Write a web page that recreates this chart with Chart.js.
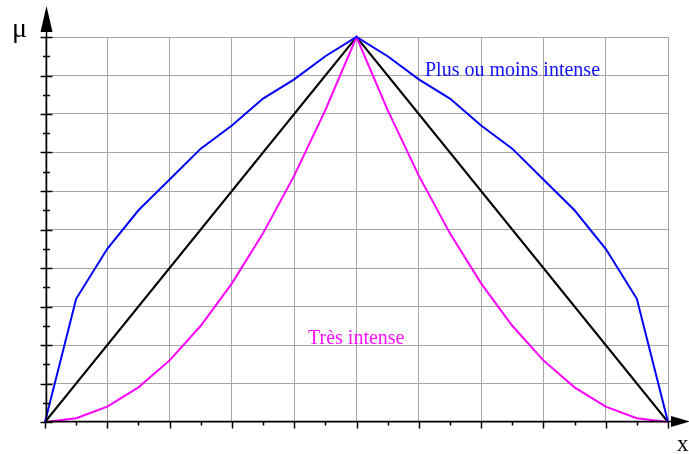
<!DOCTYPE html>
<html>
<head>
<meta charset="utf-8">
<script src="https://cdn.jsdelivr.net/npm/chart.js@4/dist/chart.umd.min.js"></script>
<style>
  html, body { margin: 0; padding: 0; background: #fff; }
  canvas { display: block; }
</style>
</head>
<body>
<canvas id="chart" width="689" height="454"></canvas>
<script>
// x positions, one point every 0.1
const xs = [0, 0.1, 0.2, 0.3, 0.4, 0.5, 0.6, 0.7, 0.8, 0.9, 1.0,
            1.1, 1.2, 1.3, 1.4, 1.5, 1.6, 1.7, 1.8, 1.9, 2.0];

// membership degrees
const base = [0, 0.1, 0.2, 0.3, 0.4, 0.5, 0.6, 0.7, 0.8, 0.9, 1,
              0.9, 0.8, 0.7, 0.6, 0.5, 0.4, 0.3, 0.2, 0.1, 0];
const plusOuMoins = [0, 0.32, 0.45, 0.55, 0.63, 0.71, 0.77, 0.84, 0.89, 0.95, 1,
                     0.95, 0.89, 0.84, 0.77, 0.71, 0.63, 0.55, 0.45, 0.32, 0];
const tres = [0, 0.01, 0.04, 0.09, 0.16, 0.25, 0.36, 0.49, 0.64, 0.81, 1,
              0.81, 0.64, 0.49, 0.36, 0.25, 0.16, 0.09, 0.04, 0.01, 0];

const labelPlus = 'Plus ou moins intense';
const labelTres = 'Très intense';
const axisY = 'μ';
const axisX = 'x';

const pts = ys => xs.map((x, i) => ({ x: x, y: ys[i] }));

const serif = '"Liberation Serif", "DejaVu Serif", serif';

// axes with arrows, major/minor ticks and the curve labels
const axesPlugin = {
  id: 'axes',
  afterDraw(chart) {
    const ctx = chart.ctx;
    const sx = chart.scales.x, sy = chart.scales.y;
    const x0 = Math.round(sx.getPixelForValue(0)) + 1.5;
    const y0 = Math.round(sy.getPixelForValue(0)) - 0.5;
    ctx.save();
    ctx.strokeStyle = '#000';
    ctx.fillStyle = '#000';
    ctx.lineWidth = 1.5;

    // vertical axis
    ctx.beginPath();
    ctx.moveTo(x0, y0);
    ctx.lineTo(x0, 28);
    ctx.stroke();
    // horizontal axis
    ctx.beginPath();
    ctx.moveTo(x0 - 1, y0);
    ctx.lineTo(675, y0);
    ctx.stroke();

    // y ticks
    for (let i = 0; i <= 20; i++) {
      const py = Math.round(sy.getPixelForValue(i * 0.05)) + 0.5;
      const major = i % 2 === 0;
      ctx.beginPath();
      ctx.moveTo(major ? x0 - 6 : x0 - 3.5, py);
      ctx.lineTo(major ? x0 + 6 : x0 + 3.5, py);
      ctx.stroke();
    }
    // x ticks
    for (let i = 0; i <= 20; i++) {
      const px = Math.round(sx.getPixelForValue(i * 0.1)) + 0.5;
      const major = i % 2 === 0;
      ctx.beginPath();
      ctx.moveTo(px, y0);
      ctx.lineTo(px, y0 + (major ? 7 : 4));
      ctx.stroke();
    }

    // arrow heads
    ctx.beginPath();
    ctx.moveTo(x0, 6);
    ctx.lineTo(x0 - 6, 32);
    ctx.lineTo(x0 + 6, 32);
    ctx.closePath();
    ctx.fill();
    ctx.beginPath();
    ctx.moveTo(690, y0);
    ctx.lineTo(671, y0 - 5.5);
    ctx.lineTo(671, y0 + 5.5);
    ctx.closePath();
    ctx.fill();

    // axis names
    ctx.textBaseline = 'alphabetic';
    ctx.textAlign = 'left';
    ctx.font = '28px ' + serif;
    ctx.fillText(axisY, 12, 37);
    ctx.font = '23px ' + serif;
    ctx.fillText(axisX, 677, 451);

    // curve labels
    ctx.font = '20px ' + serif;
    ctx.fillStyle = '#1010ff';
    ctx.fillText(labelPlus, 425, 76);
    ctx.fillStyle = '#ff10ff';
    ctx.fillText(labelTres, 308, 344);
    ctx.restore();
  }
};

new Chart(document.getElementById('chart'), {
  type: 'line',
  data: {
    datasets: [
      { data: pts(plusOuMoins), borderColor: '#0000ff' },
      { data: pts(tres), borderColor: '#ff00ff' },
      { data: pts(base), borderColor: '#000000' }
    ]
  },
  options: {
    responsive: false,
    animation: false,
    layout: { padding: { left: 45, top: 37, right: 21, bottom: 32 } },
    elements: {
      line: { borderWidth: 2, tension: 0, fill: false },
      point: { radius: 0, hoverRadius: 0 }
    },
    datasets: { line: { clip: false } },
    plugins: { legend: { display: false }, tooltip: { enabled: false } },
    scales: {
      x: {
        type: 'linear', min: 0, max: 2,
        ticks: { display: false, stepSize: 0.2 },
        grid: { color: '#a6a6a6', lineWidth: 1, drawTicks: false },
        border: { display: false }
      },
      y: {
        type: 'linear', min: 0, max: 1,
        ticks: { display: false, stepSize: 0.1 },
        grid: { color: '#a6a6a6', lineWidth: 1, drawTicks: false },
        border: { display: false }
      }
    }
  },
  plugins: [axesPlugin]
});
</script>
</body>
</html>
